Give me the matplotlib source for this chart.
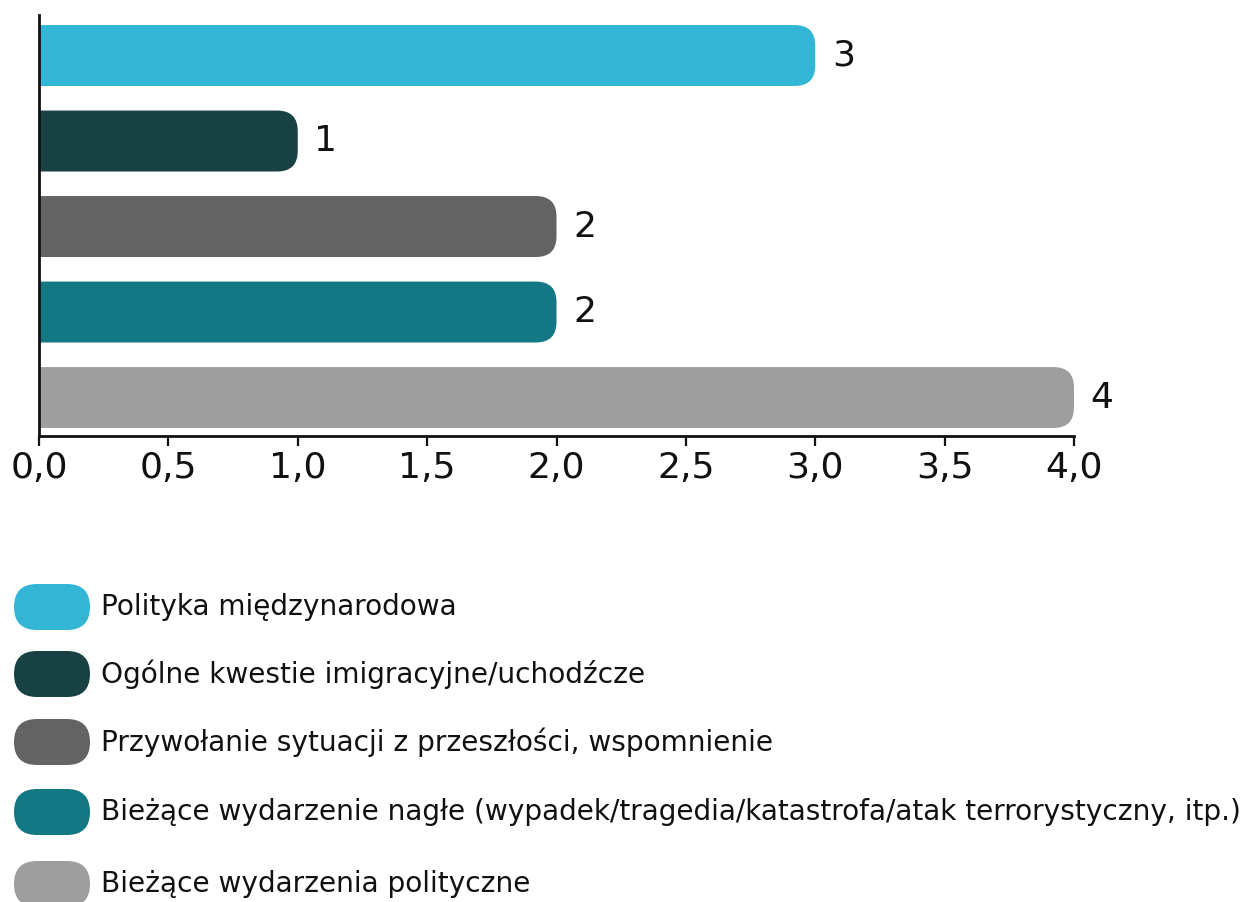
import matplotlib
matplotlib.use('Agg')
import matplotlib.pyplot as plt
from matplotlib.patches import FancyBboxPatch
from matplotlib.ticker import FuncFormatter

plt.rcParams['font.family'] = ['DejaVu Sans']

# data
categories = [
    "Polityka międzynarodowa",
    "Ogólne kwestie imigracyjne/uchodźcze",
    "Przywołanie sytuacji z przeszłości, wspomnienie",
    "Bieżące wydarzenie nagłe (wypadek/tragedia/katastrofa/atak terrorystyczny, itp.)",
    "Bieżące wydarzenia polityczne",
]
values = [3, 1, 2, 2, 4]
colors = ["#33B6D6", "#184143", "#636363", "#147784", "#9E9E9E"]
xticks = [0, 0.5, 1, 1.5, 2, 2.5, 3, 3.5, 4]

fig = plt.figure(figsize=(12.58, 9.02), dpi=100)
ax = fig.add_axes([39/1258, 1 - 436/902, 1035/1258, 421/902])

ypos = list(range(len(categories)))
bars = ax.barh(ypos, values, height=0.713, color=colors)
ax.set_xlim(0, 4)
ax.set_ylim(4.45, -0.474)

# swap plain bars for rounded ones (left end hidden beyond x=0)
r = 0.08
for b, c in zip(bars, colors):
    x0, y0, w, h = b.get_x(), b.get_y(), b.get_width(), b.get_height()
    b.set_visible(False)
    p = FancyBboxPatch((x0 - 0.2, y0), w + 0.2, h,
                       boxstyle="round,pad=0,rounding_size=%f" % r,
                       mutation_aspect=3.0, facecolor=c, edgecolor='none')
    ax.add_patch(p)

for y, v in zip(ypos, values):
    ax.annotate(str(v), (v, y), xytext=(12, 0), textcoords='offset points',
                ha='left', va='center', fontsize=26, color='#111111')

ax.set_xticks(xticks)
ax.xaxis.set_major_formatter(FuncFormatter(lambda v, p: ("%.1f" % v).replace('.', ',')))
ax.tick_params(axis='x', length=7, width=1.6, labelsize=26, pad=4, colors='#111111')
ax.set_yticks([])
for s in ['top', 'right']:
    ax.spines[s].set_visible(False)
ax.spines['left'].set_linewidth(2)
ax.spines['bottom'].set_linewidth(2)
ax.spines['left'].set_color('#111111')
ax.spines['bottom'].set_color('#111111')

# legend drawn in pixel space
lax = fig.add_axes([0, 0, 1, 1])
lax.set_xlim(0, 1258)
lax.set_ylim(902, 0)
lax.axis('off')
leg_y = [607, 674, 742, 812, 884]
for cat, c, ly in zip(categories, colors, leg_y):
    lax.add_patch(FancyBboxPatch((14, ly - 23), 76, 46,
                                 boxstyle="round,pad=0,rounding_size=23",
                                 facecolor=c, edgecolor='none'))
    lax.text(101, ly, cat, ha='left', va='center', fontsize=20.2, color='#111111')

fig.savefig('out.png', dpi=100)
